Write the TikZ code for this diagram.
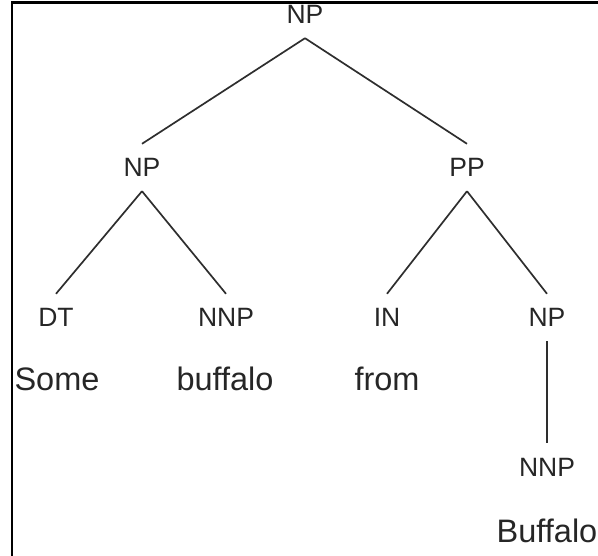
\documentclass[tikz,border=0pt]{standalone}
\usepackage{fontspec}
\setmainfont{Liberation Sans}
\begin{document}
\begin{tikzpicture}[x=1pt,y=1pt,
  tag/.style={anchor=base,font=\fontsize{26.5}{30}\selectfont,text=black!85,
    text height=19pt,text depth=0pt,inner xsep=0pt,inner ysep=14pt},
  word/.style={anchor=base,font=\fontsize{32.5}{38}\selectfont,text=black!85,inner sep=0pt},
  branch/.style={draw=black!82,line width=1.7pt}]
\useasboundingbox (0,0) rectangle (598,-556);
\clip (0,0) rectangle (598,-556);
% frame around the tree
\draw[line width=2.2pt] (11.7,-700) -- (11.7,-2.5) -- (700,-2.5);

% phrase and part-of-speech labels
\node[tag] (root) at (305,-24) {NP};
\node[tag] (np1)  at (142,-177) {NP};
\node[tag] (pp)   at (467,-177) {PP};
\node[tag] (dt)   at (56,-327) {DT};
\node[tag] (nnp1) at (226,-327) {NNP};
\node[tag] (in)   at (387,-327) {IN};
\node[tag] (np2)  at (547,-327) {NP};
\node[tag] (nnp2) at (547,-476) {NNP};

% words
\node[word] (w1) at (57,-391) {Some};
\node[word] (w2) at (225,-391) {buffalo};
\node[word] (w3) at (387,-391) {from};
\node[word] (w4) at (547,-543) {Buffalo};

% branches
\draw[branch] (root.south) -- (np1.north);
\draw[branch] (root.south) -- (pp.north);
\draw[branch] (np1.south) -- (dt.north);
\draw[branch] (np1.south) -- (nnp1.north);
\draw[branch] (pp.south) -- (in.north);
\draw[branch] (pp.south) -- (np2.north);
\draw[branch] (np2.south) -- (nnp2.north);
\end{tikzpicture}
\end{document}
